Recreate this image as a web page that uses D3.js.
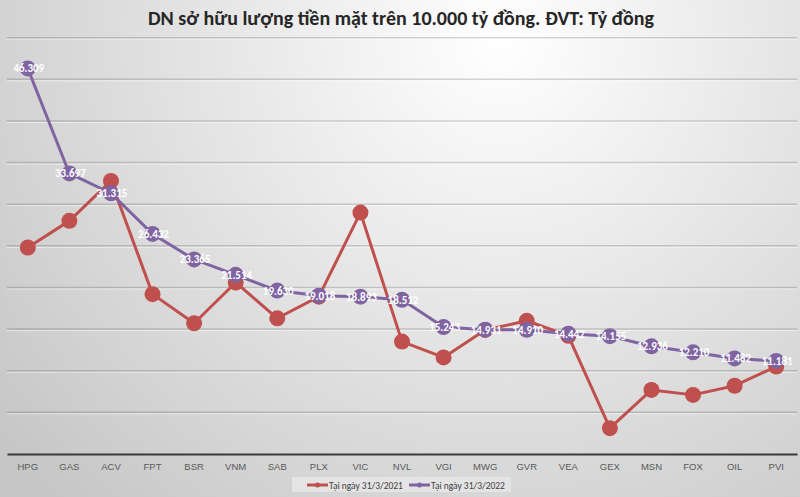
<!DOCTYPE html>
<html>
<head>
<meta charset="utf-8">
<script src="https://cdn.jsdelivr.net/npm/d3@7"></script>
<style>
  html, body { margin: 0; padding: 0; }
  body { width: 800px; height: 497px; overflow: hidden; }
  svg { display: block; font-family: Carlito, "Liberation Sans Narrow", "Open Sans", sans-serif; }
</style>
</head>
<body>
<svg id="chart" width="800" height="497"></svg>
<script>
const categories = ["HPG", "GAS", "ACV", "FPT", "BSR", "VNM", "SAB", "PLX", "VIC", "NVL",
                    "VGI", "MWG", "GVR", "VEA", "GEX", "MSN", "FOX", "OIL", "PVI"];
const values2021 = [24.8, 28.0, 32.8, 19.2, 15.7, 20.6, 16.3, 18.9, 29.0, 13.5,
                    11.6, 14.9, 16.0, 14.2, 3.1, 7.7, 7.1, 8.2, 10.5];
const values2022 = [46.309, 33.697, 31.315, 26.432, 23.365, 21.514, 19.630, 19.018, 18.893, 18.512,
                    15.243, 14.931, 14.910, 14.442, 14.155, 12.936, 12.210, 11.482, 11.181];
const seriesNames = ["Tại ngày 31/3/2021", "Tại ngày 31/3/2022"];
const yTicks = [5, 10, 15, 20, 25, 30, 35, 40, 45, 50];

const width = 800, height = 497;
const margin = {top: 37.7, left: 7, right: 3, bottom: 43};
const colors = ["#c0504d", "#8064a2"];

const svg = d3.select("#chart");

// background
const defs = svg.append("defs");
const grad = defs.append("radialGradient")
    .attr("id", "bg")
    .attr("gradientUnits", "userSpaceOnUse")
    .attr("cx", 500).attr("cy", 40).attr("r", 640);
grad.append("stop").attr("offset", 0).attr("stop-color", "#ffffff");
grad.append("stop").attr("offset", 1).attr("stop-color", "#c6c6c6");
svg.append("rect").attr("width", width).attr("height", height).attr("fill", "url(#bg)");

const x = d3.scaleBand()
    .domain(categories)
    .range([margin.left, width - margin.right]);

const y = d3.scaleLinear()
    .domain([0, 50])
    .range([height - margin.bottom, margin.top]);

const cx = d => x(d) + x.bandwidth() / 2;

// title
svg.append("text")
    .attr("x", 401)
    .attr("y", 25)
    .attr("text-anchor", "middle")
    .attr("font-size", 20)
    .attr("font-weight", "bold")
    .attr("fill", "#262626")
    .text("DN sở hữu lượng tiền mặt trên 10.000 tỷ đồng. ĐVT: Tỷ đồng");

// gridlines
const grid = svg.append("g");
grid.selectAll(".g1")
    .data(yTicks)
    .join("line")
    .attr("x1", margin.left).attr("x2", width - margin.right)
    .attr("y1", d => y(d)).attr("y2", d => y(d))
    .attr("stroke", "#000").attr("stroke-opacity", 0.16).attr("stroke-width", 1.5);
grid.selectAll(".g2")
    .data(yTicks)
    .join("line")
    .attr("x1", margin.left).attr("x2", width - margin.right)
    .attr("y1", d => y(d) + 1.5).attr("y2", d => y(d) + 1.5)
    .attr("stroke", "#fff").attr("stroke-opacity", 0.5).attr("stroke-width", 1);

// x axis
const xAxis = svg.append("g")
    .attr("transform", `translate(0,${y(0)})`)
    .call(d3.axisBottom(x).tickSize(0).tickPadding(9));
xAxis.select(".domain").attr("stroke", "#3a3a3a").attr("stroke-width", 2);
xAxis.selectAll("text")
    .attr("font-family", null)
    .attr("font-size", 9.5)
    .attr("fill", "#595959");

// series
const line = d3.line()
    .x((d, i) => cx(categories[i]))
    .y(d => y(d));

[values2021, values2022].forEach((vals, s) => {
    const g = svg.append("g");
    g.append("path")
        .datum(vals)
        .attr("d", line)
        .attr("fill", "none")
        .attr("stroke", colors[s])
        .attr("stroke-width", 3)
        .attr("stroke-linejoin", "round");
    g.selectAll("circle")
        .data(vals)
        .join("circle")
        .attr("cx", (d, i) => cx(categories[i]))
        .attr("cy", d => y(d))
        .attr("r", 8)
        .attr("fill", colors[s]);
});

// data labels for 2022
svg.append("g")
    .selectAll("text")
    .data(values2022)
    .join("text")
    .attr("x", (d, i) => cx(categories[i]) + 1)
    .attr("y", d => y(d) + 4)
    .attr("text-anchor", "middle")
    .attr("font-size", 11)
    .attr("font-weight", "bold")
    .attr("fill", "#fff")
    .text(d => d3.format(".3f")(d));

// legend
const legend = svg.append("g");
legend.append("rect")
    .attr("x", 292).attr("y", 477).attr("width", 219).attr("height", 15)
    .attr("fill", "#e4e4e4");
const lx = [307, 409];
seriesNames.forEach((name, s) => {
    legend.append("line")
        .attr("x1", lx[s]).attr("x2", lx[s] + 21)
        .attr("y1", 485).attr("y2", 485)
        .attr("stroke", colors[s]).attr("stroke-width", 3);
    legend.append("circle")
        .attr("cx", lx[s] + 10.5).attr("cy", 485).attr("r", 2.5)
        .attr("fill", colors[s]);
    legend.append("text")
        .attr("x", lx[s] + 22).attr("y", 488.5)
        .attr("font-size", 9.5)
        .attr("fill", "#404040")
        .text(name);
});
</script>
</body>
</html>
